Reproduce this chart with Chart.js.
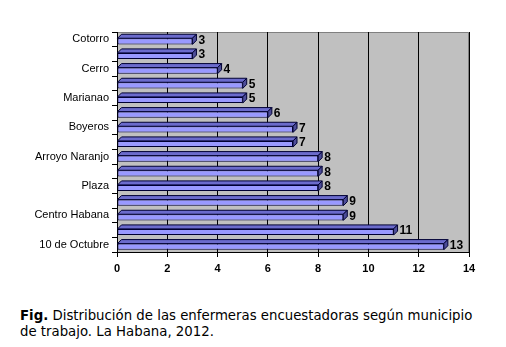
<!DOCTYPE html>
<html>
<head>
<meta charset="utf-8">
<script src="https://cdn.jsdelivr.net/npm/chart.js@4"></script>
<style>
  body { margin:0; background:#fff; width:506px; height:347px; overflow:hidden; }
  #wrap { position:absolute; left:0; top:0; width:506px; height:285px; }
  #caption { position:absolute; left:20px; top:308px; width:470px;
    font-family:"DejaVu Sans", Verdana, sans-serif; font-size:13.3px; line-height:16px; color:#000; }
</style>
</head>
<body>
<div id="wrap"><canvas id="grafico" width="506" height="285"></canvas></div>
<div id="caption"><b>Fig.</b> Distribución de las enfermeras encuestadoras según municipio de trabajo. La Habana, 2012.</div>
<script>
// municipios (solo se rotulan los impares, como en el original)
const municipios = [
  "Cotorro", "Regla", "Cerro", "La Lisa", "Marianao", "Guanabacoa",
  "Boyeros", "Habana del Este", "Arroyo Naranjo", "San Miguel del Padrón",
  "Plaza", "Playa", "Centro Habana", "Habana Vieja", "10 de Octubre"
];
const enfermeras = [3, 3, 4, 5, 5, 6, 7, 7, 8, 8, 8, 9, 9, 11, 13];
const ticksX = [0, 2, 4, 6, 8, 10, 12, 14];

const PROF = 4; // profundidad del efecto 3D

/* fondo gris del area de trazado */
const fondo = {
  id: "fondo",
  beforeDraw(chart){
    const a = chart.chartArea, ctx = chart.ctx;
    ctx.save();
    ctx.fillStyle = "#c0c0c0";
    ctx.fillRect(a.left, a.top, a.right - a.left, a.bottom - a.top);
    ctx.strokeStyle = "#808080";
    ctx.lineWidth = 1;
    ctx.beginPath();
    ctx.moveTo(a.left, a.top + 0.5);
    ctx.lineTo(a.right - 0.5, a.top + 0.5);
    ctx.lineTo(a.right - 0.5, a.bottom);
    ctx.stroke();
    ctx.restore();
  }
};

/* barras 3D y etiquetas */
const barras3d = {
  id: "barras3d",
  beforeDatasetDraw(chart){
    chart.ctx.save();
    chart.ctx.translate(0, 2);
  },
  afterDatasetDraw(chart){
    const ctx = chart.ctx;
    const meta = chart.getDatasetMeta(0);
    meta.data.forEach((bar, i) => {
      const x0 = bar.base, x1 = bar.x;
      const yT = bar.y - bar.height / 2, yB = bar.y + bar.height / 2;
      ctx.lineWidth = 1;
      ctx.strokeStyle = "#000033";
      // cara superior
      ctx.fillStyle = "#6b6bcc";
      ctx.beginPath();
      ctx.moveTo(x0, yT);
      ctx.lineTo(x0 + PROF, yT - PROF);
      ctx.lineTo(x1 + PROF, yT - PROF);
      ctx.lineTo(x1, yT);
      ctx.closePath();
      ctx.fill(); ctx.stroke();
      // cara lateral
      ctx.fillStyle = "#4d4d99";
      ctx.beginPath();
      ctx.moveTo(x1, yT);
      ctx.lineTo(x1 + PROF, yT - PROF);
      ctx.lineTo(x1 + PROF, yB - PROF);
      ctx.lineTo(x1, yB);
      ctx.closePath();
      ctx.fill(); ctx.stroke();
      // etiqueta
      ctx.fillStyle = "#000";
      ctx.font = "bold 12px 'Liberation Sans', Arial, sans-serif";
      ctx.textBaseline = "middle";
      ctx.textAlign = "left";
      ctx.fillText(enfermeras[i], x1 + PROF + 2, bar.y - 1);
    });
    ctx.restore();
  }
};

new Chart(document.getElementById("grafico"), {
  type: "bar",
  data: {
    labels: municipios,
    datasets: [{
      data: enfermeras,
      backgroundColor: "#9999ff",
      borderColor: "#000033",
      borderWidth: 1,
      borderSkipped: false,
      barPercentage: 0.42,
      categoryPercentage: 1
    }]
  },
  options: {
    indexAxis: "y",
    responsive: false,
    animation: false,
    layout: { padding: { left: 0, right: 37, top: 32, bottom: 0 } },
    plugins: { legend: { display: false }, tooltip: { enabled: false } },
    scales: {
      x: {
        min: 0, max: 14,
        afterBuildTicks: s => { s.ticks = ticksX.map(v => ({ value: v })); },
        afterFit: s => { s.height = 33; },
        border: { color: "#000", width: 1 },
        grid: { color: "#000", lineWidth: 1, tickLength: 5, drawTicks: true },
        ticks: { color: "#000", padding: 5,
          font: { family: "'Liberation Sans', Arial, sans-serif", size: 11, weight: "bold" } }
      },
      y: {
        afterFit: s => { s.width = 117; },
        border: { color: "#000", width: 1 },
        grid: { offset: true, drawOnChartArea: false, color: "#000", tickLength: 5 },
        ticks: {
          autoSkip: false, color: "#000", padding: 3,
          font: { family: "'Liberation Sans', Arial, sans-serif", size: 11 },
          callback: (v, i) => i % 2 === 0 ? municipios[i] : ""
        }
      }
    }
  },
  plugins: [fondo, barras3d]
});
</script>
</body>
</html>
